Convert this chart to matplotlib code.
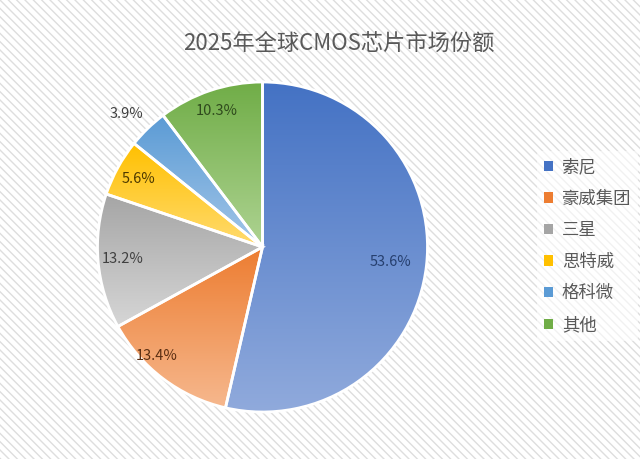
import numpy as np
import matplotlib
matplotlib.use('Agg')
import matplotlib.pyplot as plt
from matplotlib.colors import to_rgb
from matplotlib.patches import Rectangle, Patch

plt.rcParams['font.family'] = ['Noto Sans CJK SC', 'DejaVu Sans']

# data
title = '2025年全球CMOS芯片市场份额'
companies = ['索尼', '豪威集团', '三星', '思特威', '格科微', '其他']
shares = [53.6, 13.4, 13.2, 5.6, 3.9, 10.3]

# styling
top_colors = ['#4472C4', '#ED7D31', '#A5A5A5', '#FFC000', '#5B9BD5', '#70AD47']
bottom_colors = ['#90AADC', '#F6B88E', '#D6D6D6', '#FFDB70', '#A3C6E8', '#AED392']
label_colors = ['#263F6E', '#5A2E12', '#404040', '#4D3A00', '#404040', '#2F4A1D']
label_radius = [0.78, 0.92, 0.85, 0.86, 1.15, 0.87]
label_shift = [0, -7, 0, 0, 1.5, 0]

fig = plt.figure(figsize=(6.4, 4.59), dpi=100)
plt.rcParams['hatch.linewidth'] = 1.0
plt.rcParams['hatch.color'] = '#dedede'
bg = Rectangle((0, 0), 1, 1, transform=fig.transFigure, facecolor='white',
               edgecolor='#dedede', hatch='\\\\\\\\', linewidth=0, zorder=-10)
fig.patches.append(bg)

fig.text(0.53, 0.905, title, ha='center', va='center', fontsize=16, color='#595959')

ax = fig.add_axes([56.25 / 640, 5.75 / 459, 412.5 / 640, 412.5 / 459])
wedges, _ = ax.pie(shares, startangle=90, counterclock=False, radius=1,
                   wedgeprops=dict(facecolor='none', edgecolor='white', linewidth=2))

for w, c1, c2 in zip(wedges, top_colors, bottom_colors):
    ext = w.get_path().get_extents()
    t = np.linspace(0, 1, 256)[:, None, None]
    grad = (1 - t) * np.array(to_rgb(c1)) + t * np.array(to_rgb(c2))
    im = ax.imshow(grad, extent=[ext.x0, ext.x1, ext.y0, ext.y1], origin='upper',
                   aspect='auto', zorder=1, interpolation='bilinear')
    im.set_clip_path(w)
    w.set_zorder(2)

for w, s, r, sh, col in zip(wedges, shares, label_radius, label_shift, label_colors):
    ang = np.deg2rad((w.theta1 + w.theta2) / 2 + sh)
    ax.text(r * np.cos(ang), r * np.sin(ang), f'{s:.1f}%', ha='center', va='center',
            fontsize=10.5, color=col, zorder=3)

ax.set_xlim(-1.25, 1.25)
ax.set_ylim(-1.25, 1.25)
ax.set_aspect('equal')
ax.axis('off')

handles = [Patch(facecolor=c, edgecolor='none') for c in top_colors]
leg = fig.legend(handles, companies, loc='center left', bbox_to_anchor=(0.825, 0.464),
                 frameon=True, fontsize=12.5, handlelength=0.55, handleheight=0.55,
                 handletextpad=0.5, labelspacing=0.78, borderpad=0.4)
leg.get_frame().set_facecolor('white')
leg.get_frame().set_alpha(0.6)
leg.get_frame().set_edgecolor('none')
for t in leg.get_texts():
    t.set_color('#595959')

fig.savefig('out.png', dpi=100)
